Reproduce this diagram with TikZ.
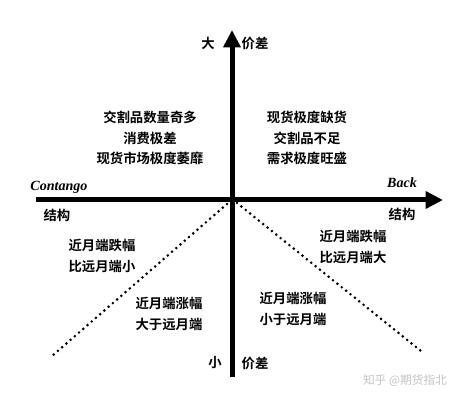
\documentclass[tikz,border=0pt]{standalone}
\usepackage{fontspec}
\usetikzlibrary{arrows.meta}
\newfontfamily\cjk{Noto Sans CJK SC}[BoldFont={Noto Sans CJK SC Bold}]
\newfontfamily\latinserif{Liberation Serif}
\definecolor{ink}{HTML}{000000}
\definecolor{mark}{HTML}{C4C4C4}
\tikzset{
  axis/.style={draw=ink,line width=5*0.03cm,-{Triangle[length=0.52cm,width=0.5cm]}},
  dots/.style={draw=ink,line width=2.9*0.03cm,line cap=round,dash pattern=on 0pt off 5.6*0.03cm},
  cn/.style={font=\cjk\bfseries\fontsize{11.4}{17.2}\selectfont,text=ink,align=center,inner sep=0pt},
  latin/.style={font=\latinserif\bfseries\itshape\fontsize{12}{14}\selectfont,text=ink,inner sep=0pt},
  watermark/.style={font=\cjk\fontsize{10}{12}\selectfont,text=mark,inner sep=0pt}
}
\begin{document}
\begin{tikzpicture}[x=0.03cm,y=-0.03cm]
\path[use as bounding box,fill=white] (0,0) rectangle (465,400);
% axes
\coordinate (xl) at (36,200);
\coordinate (xr) at (443,200);
\coordinate (yb) at (232,377);
\coordinate (yt) at (232,30);
\draw[axis] (xl) -- (xr);
\draw[axis] (yb) -- (yt);
% dotted dividers
\coordinate (dl0) at (227,204);
\coordinate (dl1) at (52,356);
\coordinate (dr0) at (237,203);
\coordinate (dr1) at (421,351);
\draw[dots] (dl0) -- (dl1);
\draw[dots] (dr0) -- (dr1);

\node[cn] (big) at (208,43) {大};
\node[cn] (spreadtop) at (255,43) {价差};
\node[cn] (small) at (215,363) {小};
\node[cn] (spreadbot) at (255,363) {价差};

\node[cn] (ctext) at (150,138) {交割品数量奇多\\消费极差\\现货市场极度萎靡};
\node[cn] (btext) at (307,138) {现货极度缺货\\交割品不足\\需求极度旺盛};

\node[latin] (contango) at (59,187) {Contango};
\node[latin] (back) at (402,183) {Back};
\node[cn] (cstruct) at (57,215) {结构};
\node[cn] (bstruct) at (402,214) {结构};

\node[cn] (cfall) at (102,256) {近月端跌幅\\比远月端小};
\node[cn] (crise) at (169,314) {近月端涨幅\\大于远月端};
\node[cn] (brise) at (293,309) {近月端涨幅\\小于远月端};
\node[cn] (bfall) at (353,247) {近月端跌幅\\比远月端大};

\node[watermark] (zhihu) at (405,381) {知乎 @期货指北};
\end{tikzpicture}
\end{document}
